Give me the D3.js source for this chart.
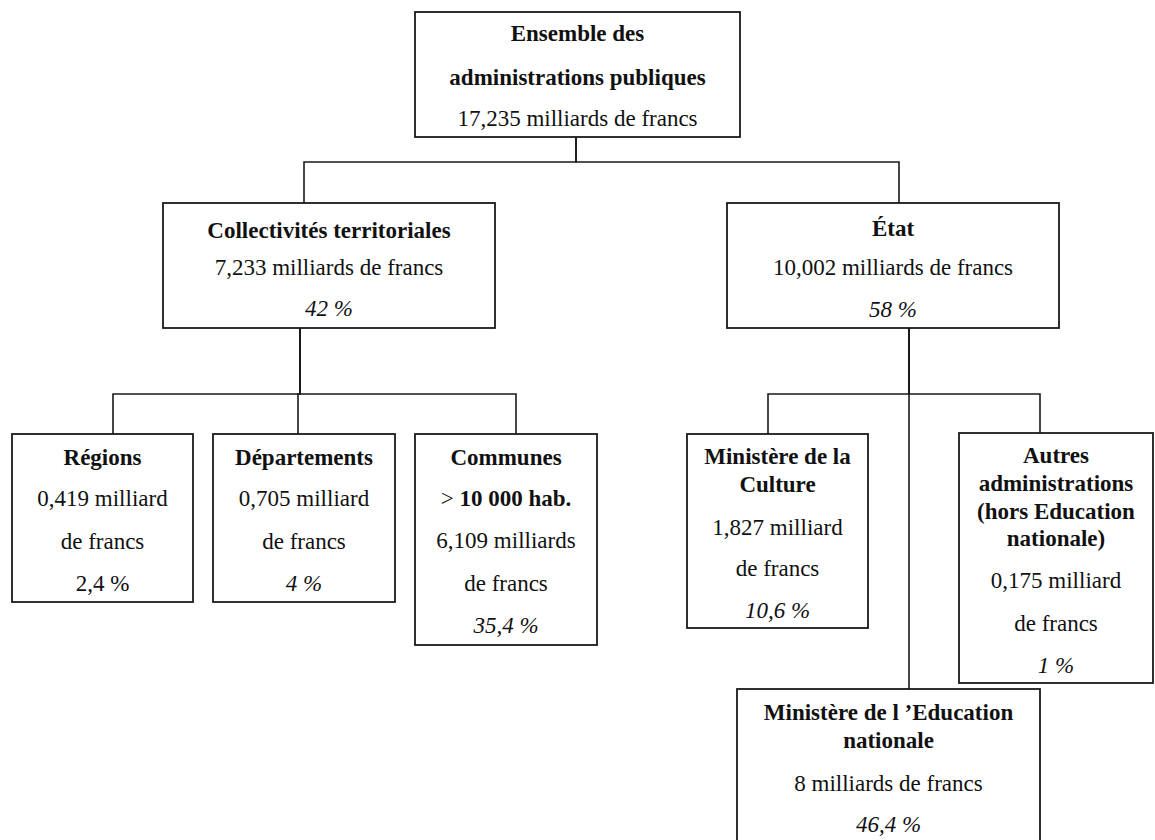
<!DOCTYPE html>
<html>
<head>
<meta charset="utf-8">
<script src="https://cdn.jsdelivr.net/npm/d3@7"></script>
<style>
  body { margin: 0; background: #fff; }
  svg { display: block; }
</style>
</head>
<body>
<div id="chart"></div>
<script>
'use strict';

// chart content
const ids = ["root", "coll", "etat", "reg", "dep", "com", "cult", "educ", "autres"];
const parents = [null, "root", "root", "coll", "coll", "coll", "etat", "etat", "etat"];
const titles = [
    ["Ensemble des", "administrations publiques"],
    ["Collectivités territoriales"],
    ["État"],
    ["Régions"],
    ["Départements"],
    ["Communes", "> |10 000 hab."],
    ["Ministère de la", "Culture"],
    ["Ministère de l ’Education", "nationale"],
    ["Autres", "administrations", "(hors Education", "nationale)"]
];
const amounts = [
    ["17,235 milliards de francs"],
    ["7,233 milliards de francs"],
    ["10,002 milliards de francs"],
    ["0,419 milliard", "de francs"],
    ["0,705 milliard", "de francs"],
    ["6,109 milliards", "de francs"],
    ["1,827 milliard", "de francs"],
    ["8 milliards de francs"],
    ["0,175 milliard", "de francs"]
];
const shares = [null, "42 %", "58 %", "2,4 %", "4 %", "35,4 %", "10,6 %", "46,4 %", "1 %"];
const upright = ["reg"];

// page layout (boxes, text lines, connector elbows)
const layout = {
    root:   { box: [415, 12, 740, 137],  lines: [33, 77, 118], down: 576, bar: 162 },
    coll:   { box: [163, 203, 495, 328], lines: [230, 267, 308], down: 300, bar: 394, up: 304 },
    etat:   { box: [727, 203, 1059, 328], lines: [228, 267, 309], down: 909, bar: 394, up: 899 },
    reg:    { box: [12, 434, 193, 602],  lines: [457, 498, 541, 583], up: 113 },
    dep:    { box: [213, 434, 395, 602], lines: [457, 498, 541, 583], up: 298 },
    com:    { box: [415, 434, 597, 645], lines: [457, 498, 540, 583, 625], up: 516 },
    cult:   { box: [687, 434, 868, 628], lines: [456, 484, 527, 568, 610], up: 768 },
    educ:   { box: [737, 689, 1040, 845], lines: [712, 740, 783, 824], up: 909 },
    autres: { box: [959, 433, 1153, 683], lines: [455, 483, 511, 538, 580, 623, 665], up: 1040 }
};

const width = 1155, height = 840;
const fontFamily = '"Liberation Serif"';

const table = ids.map((id, i) => ({
    id: id,
    parent: parents[i],
    title: titles[i],
    amount: amounts[i],
    share: shares[i]
}));

const tree = d3.stratify()
    .id(d => d.id)
    .parentId(d => d.parent)(table);

const svg = d3.select('#chart')
    .append('svg')
    .attr('width', width)
    .attr('height', height);

// connectors
svg.selectAll('.link')
    .data(tree.links())
    .enter()
    .append('path')
    .attr('class', 'link')
    .attr('fill', 'none')
    .attr('stroke', '#1a1a1a')
    .attr('stroke-width', 1.6)
    .attr('d', l => {
        const p = layout[l.source.id], c = layout[l.target.id];
        return 'M' + p.down + ',' + p.box[3] +
            'V' + p.bar + 'H' + c.up + 'V' + c.box[1];
    });

const nodes = svg.selectAll('.node')
    .data(tree.descendants())
    .enter()
    .append('g')
    .attr('class', 'node');

nodes.append('rect')
    .attr('x', d => layout[d.id].box[0])
    .attr('y', d => layout[d.id].box[1])
    .attr('width', d => layout[d.id].box[2] - layout[d.id].box[0])
    .attr('height', d => layout[d.id].box[3] - layout[d.id].box[1])
    .attr('fill', '#fff')
    .attr('stroke', '#1a1a1a')
    .attr('stroke-width', 1.8);

nodes.each(function(d) {
    const g = d3.select(this);
    const L = layout[d.id];
    const cx = (L.box[0] + L.box[2]) / 2;
    let rows = [];
    d.data.title.forEach(t => rows.push({ text: t, kind: 'title' }));
    d.data.amount.forEach(t => rows.push({ text: t, kind: 'amount' }));
    if (d.data.share) rows.push({ text: d.data.share, kind: upright.includes(d.id) ? 'amount' : 'share' });

    rows.forEach((r, i) => {
        const t = g.append('text')
            .attr('x', cx)
            .attr('y', L.lines[i])
            .attr('text-anchor', 'middle')
            .attr('dominant-baseline', 'central')
            .style('font-family', fontFamily)
            .style('font-size', '23px')
            .style('fill', '#111');
        if (r.kind === 'title' && r.text.includes('|')) {
            // mixed weight line
            const parts = r.text.split('|');
            t.append('tspan').text(parts[0]);
            t.append('tspan').style('font-weight', 'bold').text(parts[1]);
        } else {
            t.text(r.text)
                .style('font-weight', r.kind === 'title' ? 'bold' : 'normal')
                .style('font-style', r.kind === 'share' ? 'italic' : 'normal');
        }
    });
});
</script>
</body>
</html>
